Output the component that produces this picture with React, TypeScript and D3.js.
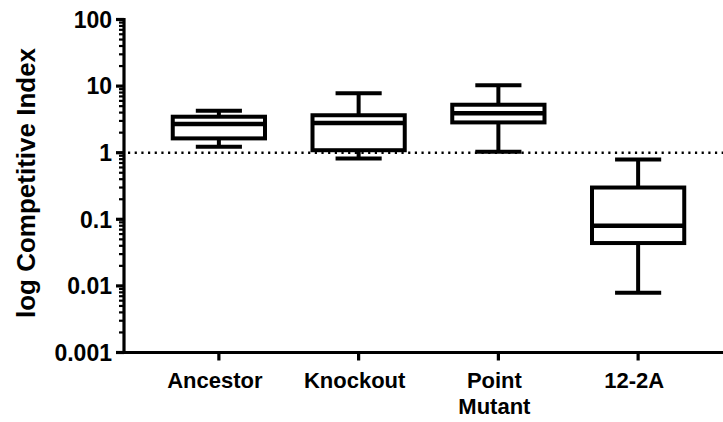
import React from "react";
import * as d3 from "d3";

const categories = ["Ancestor", "Knockout", "Point Mutant", "12-2A"];
const categoryLabelLines = [["Ancestor"], ["Knockout"], ["Point", "Mutant"], ["12-2A"]];
const whiskerLow = [1.23, 0.82, 1.03, 0.0079];
const q1 = [1.64, 1.09, 2.85, 0.044];
const median = [2.7, 2.8, 3.9, 0.08];
const q3 = [3.47, 3.65, 5.25, 0.3];
const whiskerHigh = [4.27, 7.8, 10.3, 0.79];
const yTickValues = [0.001, 0.01, 0.1, 1, 10, 100];
const yTickLabels = ["0.001", "0.01", "0.1", "1", "10", "100"];
const referenceValue = 1;

const W = 723;
const H = 422;
const axisX = 124;
const axisY = 352.5;
const FONT = "'Liberation Sans', Arial, Helvetica, sans-serif";

export default function App() {
  const y = d3.scaleLog().domain([0.001, 100]).range([352.5, 19.5]);
  const x = d3.scaleBand<string>().domain(categories).range([149, 708]).padding(0);
  const bw = x.bandwidth();
  const boxW = bw * 0.66;
  const capW = boxW * 0.5;

  const minorTicks: number[] = [];
  for (let e = -3; e < 2; e++) {
    for (let m = 2; m <= 9; m++) minorTicks.push(m * Math.pow(10, e));
  }

  const sw = 4;

  return (
    <svg width={W} height={H} style={{ position: "absolute", left: 0, top: 0, background: "#fff" }}>
      <rect x={0} y={0} width={W} height={H} fill="#fff" />
      {/* reference dotted line */}
      <line
        x1={axisX + 4}
        x2={W}
        y1={y(referenceValue)}
        y2={y(referenceValue)}
        stroke="#000"
        strokeWidth={2.4}
        strokeDasharray="2.2 4.47"
      />
      {/* boxes */}
      {categories.map((c, i) => {
        const cx = (x(c) as number) + bw / 2;
        return (
          <g key={c}>
            <line x1={cx} x2={cx} y1={y(whiskerHigh[i])} y2={y(q3[i])} stroke="#000" strokeWidth={sw} />
            <line x1={cx} x2={cx} y1={y(q1[i])} y2={y(whiskerLow[i])} stroke="#000" strokeWidth={sw} />
            <line x1={cx - capW / 2} x2={cx + capW / 2} y1={y(whiskerHigh[i])} y2={y(whiskerHigh[i])} stroke="#000" strokeWidth={sw} />
            <line x1={cx - capW / 2} x2={cx + capW / 2} y1={y(whiskerLow[i])} y2={y(whiskerLow[i])} stroke="#000" strokeWidth={sw} />
            <rect
              x={cx - boxW / 2}
              y={y(q3[i])}
              width={boxW}
              height={y(q1[i]) - y(q3[i])}
              fill="#fff"
              fillOpacity={0}
              stroke="#000"
              strokeWidth={sw}
            />
            <line x1={cx - boxW / 2} x2={cx + boxW / 2} y1={y(median[i])} y2={y(median[i])} stroke="#000" strokeWidth={sw + 0.5} />
          </g>
        );
      })}
      {/* y axis */}
      <line x1={axisX} x2={axisX} y1={y(100) - 1.5} y2={axisY} stroke="#000" strokeWidth={3.2} />
      {minorTicks.map((t, i) => (
        <line key={"m" + i} x1={axisX - 5} x2={axisX} y1={y(t)} y2={y(t)} stroke="#000" strokeWidth={2.2} />
      ))}
      {yTickValues.map((t, i) => (
        <g key={"t" + i}>
          <line x1={axisX - 8} x2={axisX} y1={y(t)} y2={y(t)} stroke="#000" strokeWidth={3.2} />
          <text
            x={axisX - 12}
            y={y(t)}
            dy="0.36em"
            textAnchor="end"
            fontFamily={FONT}
            fontWeight="bold"
            fontSize={23}
            fill="#000"
          >
            {yTickLabels[i]}
          </text>
        </g>
      ))}
      {/* x axis */}
      <line x1={axisX - 1.6} x2={W} y1={axisY} y2={axisY} stroke="#000" strokeWidth={3.2} />
      {categories.map((c, i) => {
        const cx = (x(c) as number) + bw / 2;
        return (
          <g key={"x" + c}>
            <line x1={cx} x2={cx} y1={axisY} y2={axisY + 8} stroke="#000" strokeWidth={3.2} />
            {categoryLabelLines[i].map((ln, j) => (
              <text
                key={j}
                x={cx - 4}
                y={388 + j * 26}
                textAnchor="middle"
                fontFamily={FONT}
                fontWeight="bold"
                fontSize={22}
                fill="#000"
              >
                {ln}
              </text>
            ))}
          </g>
        );
      })}
      {/* y title */}
      <text
        transform={`translate(35, 183) rotate(-90)`}
        textAnchor="middle"
        fontFamily={FONT}
        fontWeight="bold"
        fontSize={26}
        fill="#000"
      >
        log Competitive Index
      </text>
    </svg>
  );
}
